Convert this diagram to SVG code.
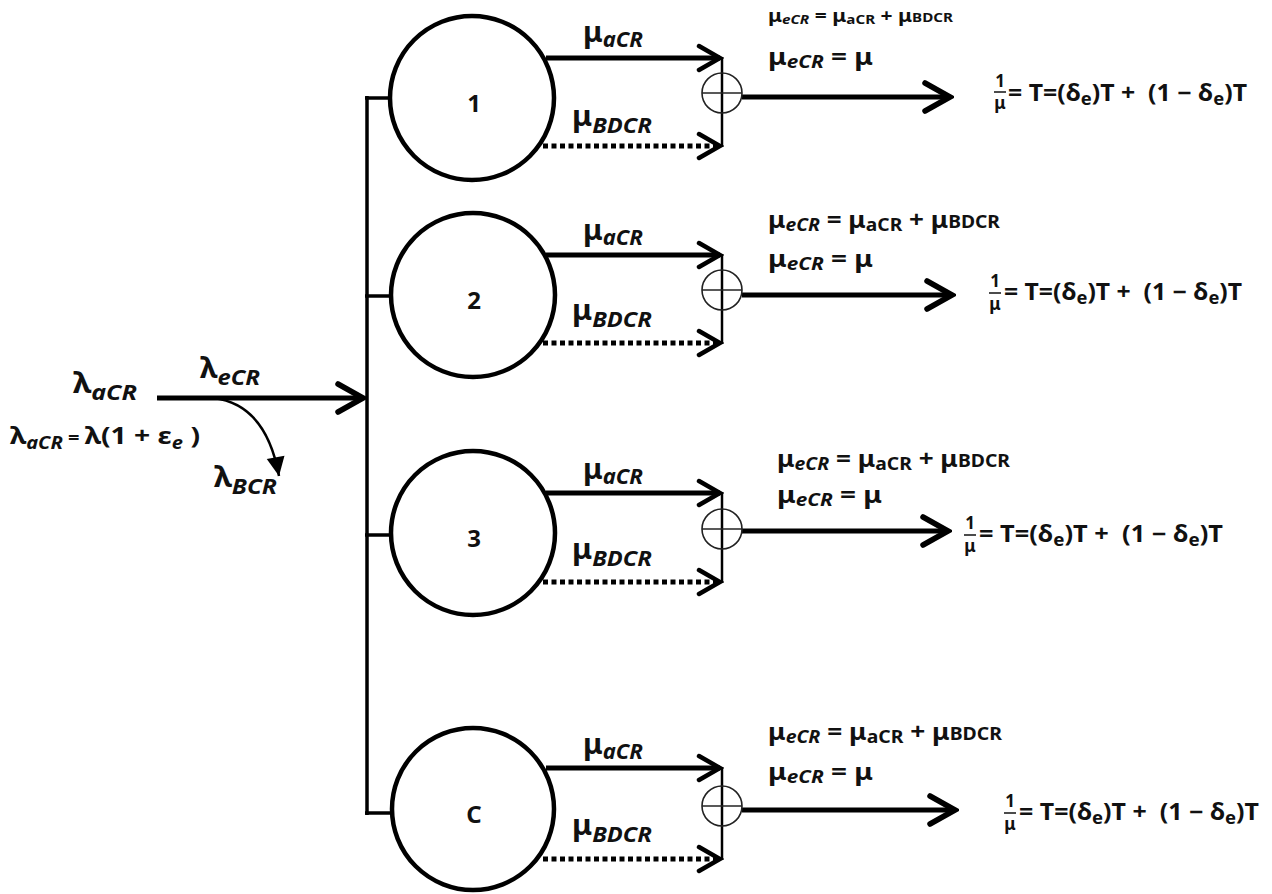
<svg xmlns="http://www.w3.org/2000/svg" width="1272" height="894" viewBox="0 0 1272 894">
  <style>
    text { font-family: "Noto Sans", "DejaVu Sans", sans-serif; font-weight: bold; fill: #111; }
    .g { font-size: 28px; }
    .gs { font-size: 24px; }
    .it { font-style: italic; }
    .num { font-size: 24px; text-anchor: middle; }
    .node { fill: #fff; stroke: #000; stroke-width: 4.5; }
    .sum { fill: none; stroke: #222; stroke-width: 1.6; }
    .flow { fill: none; stroke: #000; stroke-width: 5; }
    .dash { fill: none; stroke: #000; stroke-width: 5; stroke-dasharray: 5 3.5; }
    .thin { fill: none; stroke: #000; stroke-width: 2.5; }
    .bus { fill: none; stroke: #000; stroke-width: 3.5; }
    .eq { font-size: 23px; }
    .eqs { font-size: 17px; }
    .frac { font-size: 17px; text-anchor: middle; }
  </style>
  <defs>
    <marker id="chev" markerUnits="userSpaceOnUse" viewBox="-26 -16 30 32" markerWidth="30" markerHeight="32" refX="0" refY="0" orient="auto">
      <path d="M-21,-12 L0,0 L-21,12" fill="none" stroke="#000" stroke-width="4.5" stroke-linecap="round" stroke-linejoin="miter"/>
    </marker>
    <marker id="chevBig" markerUnits="userSpaceOnUse" viewBox="-30 -18 34 36" markerWidth="34" markerHeight="36" refX="0" refY="0" orient="auto">
      <path d="M-25,-14 L0,0 L-25,14" fill="none" stroke="#000" stroke-width="5.5" stroke-linecap="round"/>
    </marker>
    <marker id="tri" markerUnits="userSpaceOnUse" viewBox="-20 -11 22 22" markerWidth="22" markerHeight="22" refX="0" refY="0" orient="auto">
      <path d="M-19,-9 L0,0 L-19,9 Z" fill="#000"/>
    </marker>
  </defs>

  <!-- connectors -->
  <g id="connectors">
    <!-- incoming stream and bus -->
    <line class="flow" x1="157" y1="398" x2="363" y2="398" marker-end="url(#chevBig)"/>
    <path class="thin" d="M213,398 Q266,404 279,476" stroke-width="3.5" marker-end="url(#tri)"/>
    <line class="bus" x1="367" y1="96" x2="367" y2="815"/>
    <line class="bus" x1="365" y1="98" x2="394" y2="98"/>
    <line class="bus" x1="365" y1="296" x2="394" y2="296"/>
    <line class="bus" x1="365" y1="535" x2="394" y2="535"/>
    <line class="bus" x1="365" y1="813" x2="394" y2="813"/>

    <!-- server 1 outputs -->
    <line class="flow" x1="546" y1="58" x2="720" y2="58" marker-end="url(#chev)"/>
    <line class="dash" x1="543" y1="146" x2="720" y2="146" marker-end="url(#chev)"/>
    <line class="thin" x1="722" y1="57" x2="722" y2="147"/>
    <line class="flow" x1="742" y1="97" x2="950" y2="97" marker-end="url(#chevBig)"/>

    <!-- server 2 outputs -->
    <line class="flow" x1="546" y1="255" x2="720" y2="255" marker-end="url(#chev)"/>
    <line class="dash" x1="543" y1="343" x2="720" y2="343" marker-end="url(#chev)"/>
    <line class="thin" x1="722" y1="254" x2="722" y2="344"/>
    <line class="flow" x1="742" y1="295" x2="952" y2="295" marker-end="url(#chevBig)"/>

    <!-- server 3 outputs -->
    <line class="flow" x1="546" y1="493" x2="720" y2="493" marker-end="url(#chev)"/>
    <line class="dash" x1="543" y1="582" x2="720" y2="582" marker-end="url(#chev)"/>
    <line class="thin" x1="722" y1="492" x2="722" y2="583"/>
    <line class="flow" x1="742" y1="531" x2="948" y2="531" marker-end="url(#chevBig)"/>

    <!-- server C outputs -->
    <line class="flow" x1="546" y1="768" x2="720" y2="768" marker-end="url(#chev)"/>
    <line class="dash" x1="543" y1="859" x2="720" y2="859" marker-end="url(#chev)"/>
    <line class="thin" x1="722" y1="767" x2="722" y2="860"/>
    <line class="flow" x1="742" y1="810" x2="955" y2="810" marker-end="url(#chevBig)"/>
  </g>

  <!-- arrival labels -->
  <g id="arrivals">
    <text x="73" y="393" textLength="64" lengthAdjust="spacingAndGlyphs"><tspan class="g">λ</tspan><tspan class="it" font-size="22" dy="7">aCR</tspan></text>
    <text x="200" y="378" textLength="60" lengthAdjust="spacingAndGlyphs"><tspan class="g">λ</tspan><tspan class="it" font-size="22" dy="7">eCR</tspan></text>
    <text x="10" y="444" textLength="190" lengthAdjust="spacingAndGlyphs"><tspan class="gs">λ</tspan><tspan class="it" font-size="17" dy="5">aCR</tspan><tspan font-size="17" dy="-5"> = </tspan><tspan class="gs">λ(1 + ε</tspan><tspan class="it" font-size="17" dy="5">e</tspan><tspan class="gs" dy="-5"> )</tspan></text>
    <text x="214" y="487" textLength="63" lengthAdjust="spacingAndGlyphs"><tspan class="g">λ</tspan><tspan class="it" font-size="22" dy="7">BCR</tspan></text>
  </g>

  <!-- server 1 -->
  <g id="server-1">
    <circle class="node" cx="472" cy="98" r="82"/>
    <text class="num" x="474" y="112">1</text>
    <text x="583" y="42" textLength="60" lengthAdjust="spacingAndGlyphs"><tspan class="g">μ</tspan><tspan class="it" font-size="21" dy="5">aCR</tspan></text>
    <text x="572" y="126" textLength="80" lengthAdjust="spacingAndGlyphs"><tspan class="g">μ</tspan><tspan class="it" font-size="22" dy="7">BDCR</tspan></text>
    <circle class="sum" cx="722" cy="93" r="20"/>
    <line class="sum" x1="702" y1="93" x2="742" y2="93" stroke="#555" stroke-width="2"/>
    <text x="768" y="22" textLength="185" lengthAdjust="spacingAndGlyphs"><tspan font-size="18">μ</tspan><tspan class="it" font-size="13" dy="2">eCR</tspan><tspan font-size="18" dy="-2"> = μ</tspan><tspan font-size="13" dy="2">aCR</tspan><tspan font-size="18" dy="-2"> + μ</tspan><tspan font-size="13">BDCR</tspan></text>
    <text x="768" y="65" textLength="105" lengthAdjust="spacingAndGlyphs"><tspan class="eq">μ</tspan><tspan class="it eqs" dy="3">eCR</tspan><tspan class="eq" dy="-3"> = μ</tspan></text>
    <text class="frac" x="1000" y="87">1</text>
    <line x1="994" y1="92" x2="1006" y2="92" stroke="#111" stroke-width="1.5"/>
    <text class="frac" x="1000" y="109">μ</text>
    <text x="1008" y="101" textLength="239" lengthAdjust="spacingAndGlyphs"><tspan class="eq">= T=(δ</tspan><tspan class="eqs" dy="4">e</tspan><tspan class="eq" dy="-4">)T + &#160;(1 − δ</tspan><tspan class="eqs" dy="4">e</tspan><tspan class="eq" dy="-4">)T</tspan></text>
  </g>

  <!-- server 2 -->
  <g id="server-2">
    <circle class="node" cx="473" cy="295" r="82"/>
    <text class="num" x="474" y="309">2</text>
    <text x="583" y="240" textLength="60" lengthAdjust="spacingAndGlyphs"><tspan class="g">μ</tspan><tspan class="it" font-size="21" dy="5">aCR</tspan></text>
    <text x="572" y="320" textLength="80" lengthAdjust="spacingAndGlyphs"><tspan class="g">μ</tspan><tspan class="it" font-size="22" dy="7">BDCR</tspan></text>
    <circle class="sum" cx="722" cy="290" r="20"/>
    <line class="sum" x1="702" y1="290" x2="742" y2="290"/>
    <text x="768" y="228" textLength="232" lengthAdjust="spacingAndGlyphs"><tspan class="eq">μ</tspan><tspan class="it eqs" dy="3">eCR</tspan><tspan class="eq" dy="-3"> = μ</tspan><tspan class="eqs" dy="3">aCR</tspan><tspan class="eq" dy="-3"> + μ</tspan><tspan class="eqs">BDCR</tspan></text>
    <text x="768" y="267" textLength="105" lengthAdjust="spacingAndGlyphs"><tspan class="eq">μ</tspan><tspan class="it eqs" dy="3">eCR</tspan><tspan class="eq" dy="-3"> = μ</tspan></text>
    <text class="frac" x="995" y="287">1</text>
    <line x1="989" y1="293" x2="1001" y2="293" stroke="#111" stroke-width="1.5"/>
    <text class="frac" x="995" y="310">μ</text>
    <text x="1004" y="300" textLength="238" lengthAdjust="spacingAndGlyphs"><tspan class="eq">= T=(δ</tspan><tspan class="eqs" dy="4">e</tspan><tspan class="eq" dy="-4">)T + &#160;(1 − δ</tspan><tspan class="eqs" dy="4">e</tspan><tspan class="eq" dy="-4">)T</tspan></text>
  </g>

  <!-- server 3 -->
  <g id="server-3">
    <circle class="node" cx="473" cy="533" r="82"/>
    <text class="num" x="474" y="547">3</text>
    <text x="583" y="479" textLength="60" lengthAdjust="spacingAndGlyphs"><tspan class="g">μ</tspan><tspan class="it" font-size="21" dy="5">aCR</tspan></text>
    <text x="572" y="559" textLength="80" lengthAdjust="spacingAndGlyphs"><tspan class="g">μ</tspan><tspan class="it" font-size="22" dy="7">BDCR</tspan></text>
    <circle class="sum" cx="722" cy="529" r="20"/>
    <line class="sum" x1="702" y1="529" x2="742" y2="529" stroke="#555" stroke-width="2"/>
    <text x="777" y="467" textLength="233" lengthAdjust="spacingAndGlyphs"><tspan class="eq">μ</tspan><tspan class="it eqs" dy="3">eCR</tspan><tspan class="eq" dy="-3"> = μ</tspan><tspan class="eqs" dy="3">aCR</tspan><tspan class="eq" dy="-3"> + μ</tspan><tspan class="eqs">BDCR</tspan></text>
    <text x="777" y="503" textLength="105" lengthAdjust="spacingAndGlyphs"><tspan class="eq">μ</tspan><tspan class="it eqs" dy="3">eCR</tspan><tspan class="eq" dy="-3"> = μ</tspan></text>
    <text class="frac" x="970" y="529">1</text>
    <line x1="964" y1="535" x2="976" y2="535" stroke="#111" stroke-width="1.5"/>
    <text class="frac" x="970" y="552">μ</text>
    <text x="979" y="542" textLength="244" lengthAdjust="spacingAndGlyphs"><tspan class="eq">= T=(δ</tspan><tspan class="eqs" dy="4">e</tspan><tspan class="eq" dy="-4">)T + &#160;(1 − δ</tspan><tspan class="eqs" dy="4">e</tspan><tspan class="eq" dy="-4">)T</tspan></text>
  </g>

  <!-- server C -->
  <g id="server-c">
    <circle class="node" cx="473" cy="809" r="81"/>
    <text class="num" x="474" y="823">C</text>
    <text x="583" y="754" textLength="60" lengthAdjust="spacingAndGlyphs"><tspan class="g">μ</tspan><tspan class="it" font-size="21" dy="5">aCR</tspan></text>
    <text x="572" y="835" textLength="80" lengthAdjust="spacingAndGlyphs"><tspan class="g">μ</tspan><tspan class="it" font-size="22" dy="7">BDCR</tspan></text>
    <circle class="sum" cx="722" cy="806" r="20"/>
    <line class="sum" x1="702" y1="806" x2="742" y2="806" stroke="#555" stroke-width="2"/>
    <text x="768" y="740" textLength="234" lengthAdjust="spacingAndGlyphs"><tspan class="eq">μ</tspan><tspan class="it eqs" dy="3">eCR</tspan><tspan class="eq" dy="-3"> = μ</tspan><tspan class="eqs" dy="3">aCR</tspan><tspan class="eq" dy="-3"> + μ</tspan><tspan class="eqs">BDCR</tspan></text>
    <text x="768" y="780" textLength="105" lengthAdjust="spacingAndGlyphs"><tspan class="eq">μ</tspan><tspan class="it eqs" dy="3">eCR</tspan><tspan class="eq" dy="-3"> = μ</tspan></text>
    <text class="frac" x="1010" y="807">1</text>
    <line x1="1004" y1="813" x2="1016" y2="813" stroke="#111" stroke-width="1.5"/>
    <text class="frac" x="1010" y="830">μ</text>
    <text x="1019" y="820" textLength="240" lengthAdjust="spacingAndGlyphs"><tspan class="eq">= T=(δ</tspan><tspan class="eqs" dy="4">e</tspan><tspan class="eq" dy="-4">)T + &#160;(1 − δ</tspan><tspan class="eqs" dy="4">e</tspan><tspan class="eq" dy="-4">)T</tspan></text>
  </g>
</svg>
